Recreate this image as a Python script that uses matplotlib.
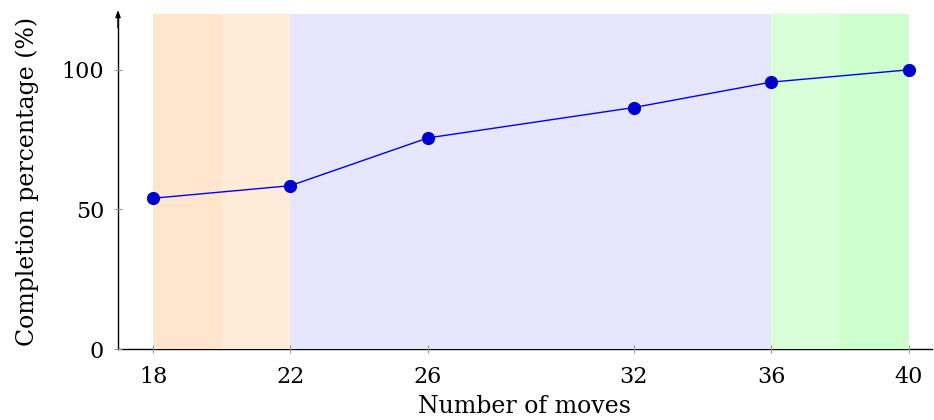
import matplotlib
matplotlib.use("Agg")
import matplotlib.pyplot as plt

moves = [18, 22, 26, 32, 36, 40]
completion = [54.0, 58.5, 75.6, 86.5, 95.6, 100.0]
band_edges = [18, 20, 22, 36, 38, 40]
band_colors = ["#FFE5CC", "#FFEBD7", "#E6E6FF", "#D9FFD9", "#CCFFCC"]
yticks = [0, 50, 100]

plt.rcParams['font.family'] = ['DejaVu Serif']

fig = plt.figure(figsize=(9.34, 4.2), dpi=100)
ax = fig.add_axes([118/934, 1-349/420, (932-118)/934, (349-14)/420])

for i, c in enumerate(band_colors):
    ax.axvspan(band_edges[i], band_edges[i+1], ymin=0, ymax=1, color=c, lw=0, zorder=1)

ax.plot(moves, completion, color="#0000FF", lw=1.0, zorder=3)
ax.plot(moves, completion, ls="none", marker="o", ms=8.5, color="#0000CC", zorder=4)

ax.set_xlim(16.98, 40.68)
ax.set_ylim(0, 120)
ax.set_xticks(moves)
ax.set_yticks(yticks)
ax.tick_params(axis="y", direction="inout", length=6, width=0.8, color="#999999", labelsize=16, pad=7)
ax.tick_params(axis="x", direction="inout", length=6, width=0.8, color="#999999", labelsize=16, pad=9)

for s in ["top", "right"]:
    ax.spines[s].set_visible(False)
ax.spines["left"].set_zorder(0.5)
ax.spines["bottom"].set_zorder(0.5)
ax.spines["left"].set_linewidth(1.0)
ax.spines["bottom"].set_linewidth(1.0)

# arrow on top of y axis
ax.annotate("", xy=(0, 1.02), xycoords="axes fraction", xytext=(0, 0.95),
            arrowprops=dict(arrowstyle="-|>,head_length=0.4,head_width=0.15", color="black", lw=1.0))

ax.set_xlabel("Number of moves", fontsize=17, labelpad=5)
ax.set_ylabel("Completion percentage (%)", fontsize=17, labelpad=16)

fig.savefig("out.png", dpi=100)
